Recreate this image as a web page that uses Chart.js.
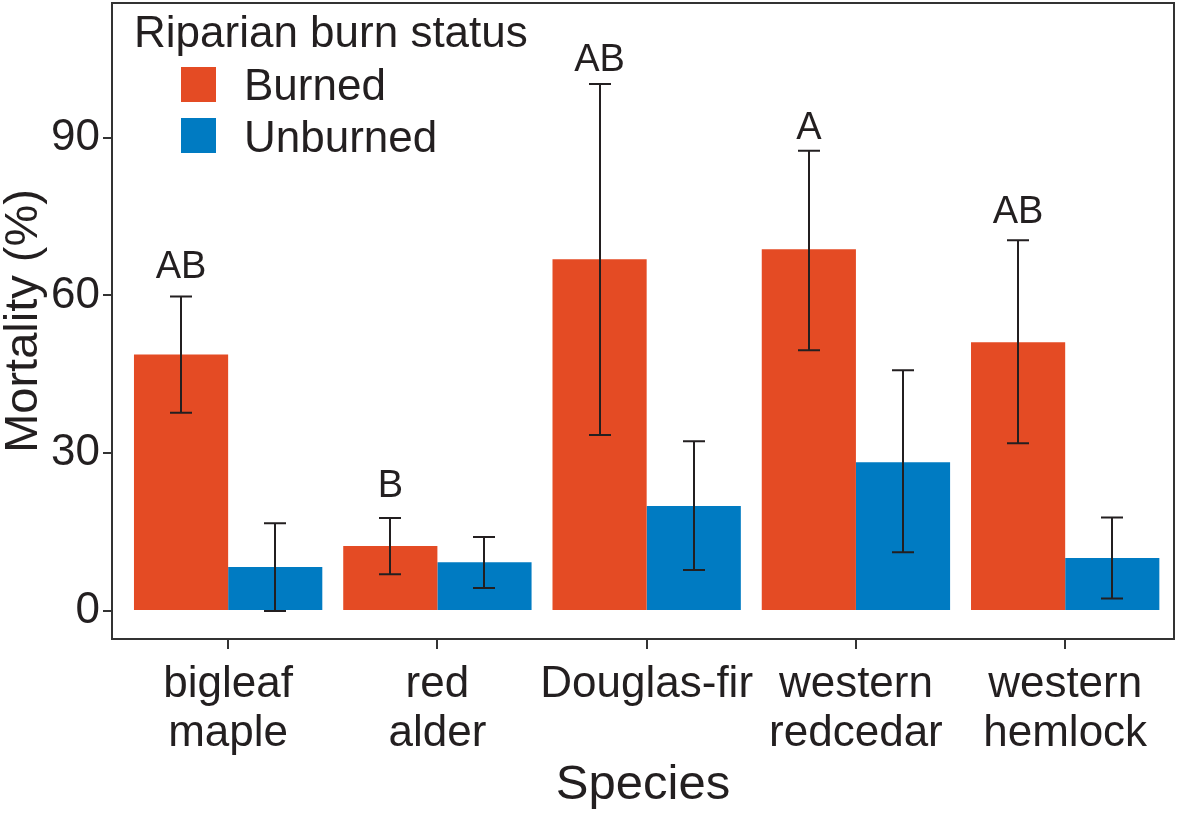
<!DOCTYPE html>
<html>
<head>
<meta charset="utf-8">
<script src="https://cdn.jsdelivr.net/npm/chart.js@4"></script>
<style>
	body { margin: 0; background: #fff; }
	#box { width: 1179px; height: 816px; }
</style>
</head>
<body>
<div id="box"><canvas id="myChart"></canvas></div>
<script>
let species = [["bigleaf", "maple"], ["red", "alder"], ["Douglas-fir"], ["western", "redcedar"], ["western", "hemlock"]];
let burned = [48.8, 12.4, 66.9, 68.8, 51.1];
let burned_low = [37.7, 7.0, 33.5, 49.6, 31.9];
let burned_high = [59.8, 17.7, 100.2, 87.5, 70.5];
let unburned = [8.4, 9.3, 20.0, 28.3, 10.1];
let unburned_low = [0.0, 4.4, 7.8, 11.2, 2.4];
let unburned_high = [16.7, 14.1, 32.3, 45.8, 17.8];
let letters = ["AB", "B", "AB", "A", "AB"];
let letter_pos = [63.3, 21.7, 102.7, 89.7, 73.8];
let y_ticks = [0, 30, 60, 90];
let series_name = ["Burned", "Unburned"];
let legend_title = "Riparian burn status";

let color_burned = "#e44b24";
let color_unburned = "#007bc2";
let ink = "#231f20";
let font_family = "'Liberation Sans', Arial, sans-serif";

function toPoints(vals) {
	return vals.map(function (v, i) { return {x: i, y: v}; });
}

// error bars + letters above the burned bars
let errPlugin = {
	id: "errbars",
	afterDatasetsDraw: function (chart) {
		let ctx = chart.ctx;
		let y = chart.scales.y;
		let lows = [burned_low, unburned_low];
		let highs = [burned_high, unburned_high];
		ctx.save();
		ctx.strokeStyle = ink;
		ctx.lineWidth = 2;
		for (let d = 0; d < 2; d++) {
			let meta = chart.getDatasetMeta(d);
			meta.data.forEach(function (bar, i) {
				let x = Math.round(bar.x);
				let y1 = y.getPixelForValue(lows[d][i]);
				let y2 = y.getPixelForValue(highs[d][i]);
				ctx.beginPath();
				ctx.moveTo(x, y1); ctx.lineTo(x, y2);
				ctx.moveTo(x - 11, y1); ctx.lineTo(x + 11, y1);
				ctx.moveTo(x - 11, y2); ctx.lineTo(x + 11, y2);
				ctx.stroke();
			});
		}
		let meta0 = chart.getDatasetMeta(0);
		ctx.fillStyle = ink;
		ctx.font = "38px " + font_family;
		ctx.textAlign = "center";
		ctx.textBaseline = "alphabetic";
		meta0.data.forEach(function (bar, i) {
			ctx.fillText(letters[i], bar.x, y.getPixelForValue(letter_pos[i]));
		});
		ctx.restore();
	}
};

// panel frame and legend inside the panel
let framePlugin = {
	id: "frame",
	afterDraw: function (chart) {
		let ctx = chart.ctx;
		let a = chart.chartArea;
		ctx.save();
		ctx.strokeStyle = "#333";
		ctx.lineWidth = 2;
		ctx.strokeRect(a.left, a.top, a.right - a.left, a.bottom - a.top);

		ctx.fillStyle = ink;
		ctx.textAlign = "left";
		ctx.textBaseline = "alphabetic";
		ctx.font = "44px " + font_family;
		ctx.fillText(legend_title, 134, 47);
		let cols = [color_burned, color_unburned];
		for (let i = 0; i < 2; i++) {
			let top = 67 + i * 51;
			ctx.fillStyle = cols[i];
			ctx.fillRect(181, top, 35, 35);
			ctx.fillStyle = ink;
			ctx.fillText(series_name[i], 244, 100 + i * 52);
		}
		ctx.restore();
	}
};

function openChart() {
	let data = {
		datasets: [{
			label: series_name[0],
			data: toPoints(burned),
			backgroundColor: color_burned,
			borderWidth: 0
		}, {
			label: series_name[1],
			data: toPoints(unburned),
			backgroundColor: color_unburned,
			borderWidth: 0
		}]
	};
	let options = {
		animation: false,
		responsive: true,
		maintainAspectRatio: false,
		layout: { padding: { top: 3, right: 5, left: 0, bottom: 0 } },
		datasets: { bar: { categoryPercentage: 0.9, barPercentage: 1.0 } },
		scales: {
			x: {
				type: "linear",
				offset: false,
				min: -0.555,
				max: 4.52,
				afterBuildTicks: function (scale) {
					scale.ticks = species.map(function (s, i) { return {value: i}; });
				},
				afterFit: function (scale) {
					scale.height = 177;
					scale.paddingLeft = 0;
					scale.paddingRight = 0;
				},
				grid: { display: true, offset: false, drawOnChartArea: false, drawTicks: true, tickLength: 10, color: "#333", lineWidth: 2 },
				border: { display: false },
				ticks: {
					autoSkip: false,
					maxRotation: 0,
					padding: 12,
					color: ink,
					font: { family: font_family, size: 44, lineHeight: 1.1 },
					callback: function (val) { return species[val]; }
				},
				title: {
					display: true,
					text: "Species",
					color: ink,
					font: { family: font_family, size: 49, lineHeight: 1 },
					padding: { top: 0, bottom: 6 }
				}
			},
			y: {
				min: -5.3,
				max: 115.6,
				afterBuildTicks: function (scale) {
					scale.ticks = y_ticks.map(function (v) { return {value: v}; });
				},
				afterFit: function (scale) {
					scale.width = 112;
					scale.paddingTop = 0;
					scale.paddingBottom = 0;
				},
				grid: { display: true, drawOnChartArea: false, drawTicks: true, tickLength: 9, color: "#333", lineWidth: 2 },
				border: { display: false },
				ticks: {
					padding: 3,
					color: ink,
					font: { family: font_family, size: 44 }
				},
				title: {
					display: true,
					text: "Mortality (%)",
					color: ink,
					font: { family: font_family, size: 47, lineHeight: 1 },
					padding: { top: 1, bottom: 0 }
				}
			}
		},
		plugins: {
			legend: { display: false },
			tooltip: { enabled: false }
		}
	};
	let ctx = document.getElementById("myChart").getContext("2d");
	return new Chart(ctx, {type: "bar", data: data, options: options, plugins: [errPlugin, framePlugin]});
}

window.onload = function () {
	openChart();
};
</script>
</body>
</html>
